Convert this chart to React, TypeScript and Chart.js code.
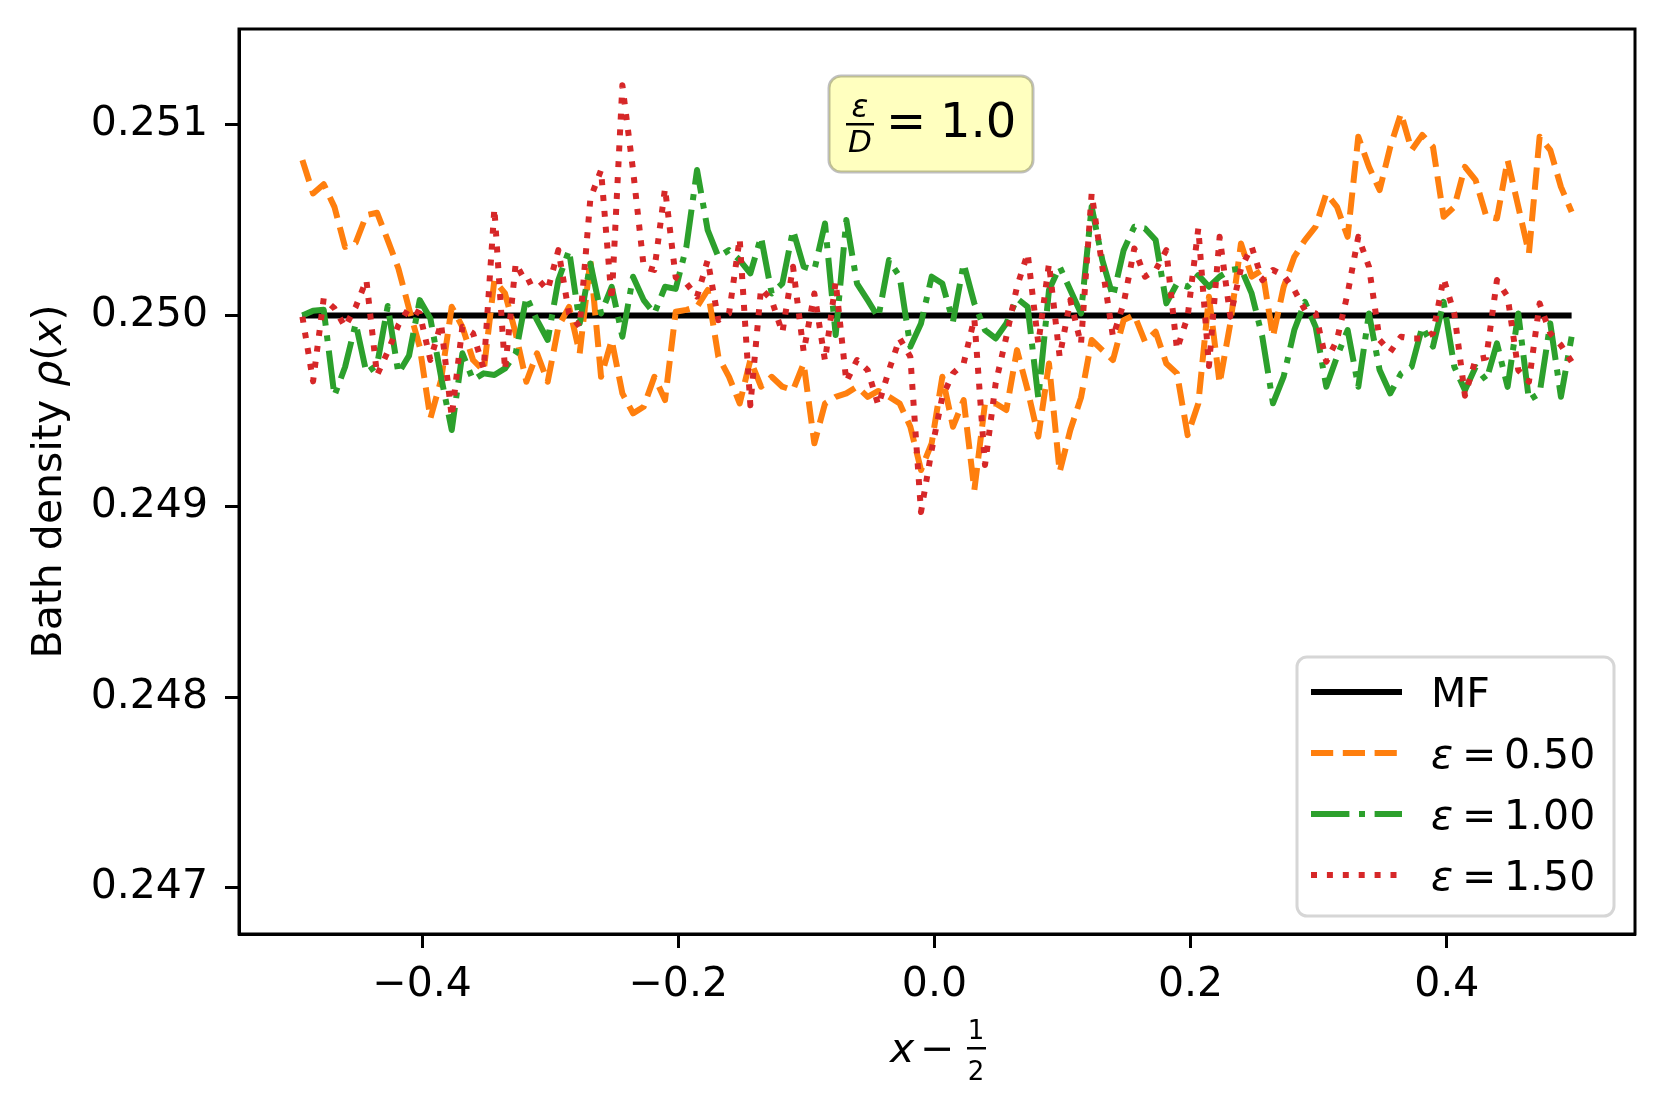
import { useEffect, useRef } from "react"
import { Chart, registerables } from "chart.js"

Chart.register(...registerables)

// sampling grid of the bath density profile (bin centres, x - 1/2)
const N_BINS = 120
const X_START = -0.4935
const X_END = 0.4975

// mean-field density
const MF_DENSITY = 0.25

const epsilonLabels = ["0.50", "1.00", "1.50"]

// epsilon = 0.50
const rhoEps050 = [
  0.250815, 0.25064, 0.250689, 0.25057, 0.25036, 0.250382, 0.250527, 0.250539, 0.250396, 0.250247,
  0.250036, 0.249836, 0.249461, 0.249662, 0.250046, 0.249941, 0.249767, 0.24971, 0.250186, 0.250116,
  0.249906, 0.249653, 0.249802, 0.249653, 0.249941, 0.250046, 0.249802, 0.250291, 0.249679, 0.249871,
  0.249592, 0.249487, 0.249522, 0.249679, 0.249557, 0.25002, 0.25003, 0.250046, 0.250134, 0.249784,
  0.249679, 0.249539, 0.249767, 0.249627, 0.249679, 0.249627, 0.249609, 0.249749, 0.24933, 0.249539,
  0.249574, 0.249592, 0.249627, 0.249574, 0.249605, 0.249574, 0.249539, 0.249417, 0.24919, 0.24933,
  0.249679, 0.249417, 0.249557, 0.249085, 0.249539, 0.249539, 0.249505, 0.249819, 0.249609, 0.249365,
  0.249749, 0.24918, 0.2494, 0.24957, 0.249872, 0.249819, 0.249767, 0.249976, 0.250003, 0.249863,
  0.249915, 0.249749, 0.249697, 0.249373, 0.249539, 0.250099, 0.249644, 0.249959, 0.250378, 0.250204,
  0.250239, 0.249889, 0.25015, 0.250308, 0.250396, 0.250466, 0.25064, 0.25057, 0.250413, 0.250938,
  0.25078, 0.250658, 0.250885, 0.25106, 0.250868, 0.250947, 0.250885, 0.250518, 0.25057, 0.25078,
  0.25071, 0.25052, 0.250509, 0.250815, 0.250571, 0.250326, 0.250938, 0.250868, 0.250675, 0.250544,
]

// epsilon = 1.00
const rhoEps100 = [
  0.25, 0.250025, 0.25003, 0.24958, 0.24973, 0.249959, 0.2497, 0.24974, 0.25005, 0.249697,
  0.24979, 0.250081, 0.249985, 0.249679, 0.2494, 0.249802, 0.249662, 0.249697, 0.249688, 0.249723,
  0.249802, 0.250099, 0.249976, 0.249872, 0.250186, 0.250343, 0.249959, 0.250273, 0.250011, 0.250151,
  0.249889, 0.250204, 0.250081, 0.250011, 0.250151, 0.25014, 0.25036, 0.250763, 0.250448, 0.250308,
  0.250343, 0.250291, 0.250221, 0.250413, 0.250116, 0.250168, 0.250448, 0.250256, 0.250239, 0.250483,
  0.249898, 0.250501, 0.250168, 0.250081, 0.24999, 0.250291, 0.250204, 0.249837, 0.249959, 0.250204,
  0.250168, 0.249968, 0.250273, 0.250064, 0.249924, 0.24988, 0.249959, 0.25009, 0.250046, 0.249566,
  0.250134, 0.250256, 0.250134, 0.250011, 0.250571, 0.250291, 0.250099, 0.250343, 0.250466, 0.250457,
  0.250396, 0.250064, 0.250168, 0.250151, 0.250212, 0.250151, 0.250204, 0.250239, 0.250247, 0.250116,
  0.249889, 0.24954, 0.24968, 0.249924, 0.250072, 0.249941, 0.249627, 0.249784, 0.249924, 0.249627,
  0.250011, 0.249714, 0.249592, 0.249696, 0.249732, 0.249941, 0.249837, 0.250072, 0.249732, 0.249609,
  0.24973, 0.24966, 0.249854, 0.249626, 0.250011, 0.249557, 0.249592, 0.249959, 0.249574, 0.249889,
]

// epsilon = 1.50
const rhoEps150 = [
  0.249994, 0.249655, 0.25009, 0.250038, 0.249941, 0.250046, 0.250186, 0.249688, 0.24981, 0.24995,
  0.25004, 0.250011, 0.249767, 0.249959, 0.249469, 0.249941, 0.249907, 0.24972, 0.250562, 0.249714,
  0.250274, 0.250169, 0.250195, 0.250134, 0.250343, 0.250011, 0.249941, 0.250614, 0.250763, 0.250081,
  0.251208, 0.250763, 0.250256, 0.250239, 0.250667, 0.2502, 0.250169, 0.250099, 0.250291, 0.249976,
  0.250011, 0.250404, 0.24953, 0.250142, 0.250081, 0.24991, 0.250256, 0.24981, 0.250116, 0.249763,
  0.250177, 0.249653, 0.249767, 0.249714, 0.24953, 0.249714, 0.24988, 0.249784, 0.24897, 0.249295,
  0.249574, 0.249697, 0.249749, 0.249985, 0.249216, 0.249644, 0.249889, 0.250151, 0.250326, 0.249854,
  0.250273, 0.249784, 0.250081, 0.24985, 0.25064, 0.250256, 0.249889, 0.250064, 0.250352, 0.250204,
  0.250239, 0.250343, 0.249822, 0.249994, 0.250457, 0.249735, 0.250413, 0.249994, 0.250247, 0.250361,
  0.250186, 0.250239, 0.25021, 0.250134, 0.250029, 0.250011, 0.249758, 0.249872, 0.250116, 0.250413,
  0.250256, 0.249872, 0.24981, 0.249889, 0.24988, 0.24988, 0.249907, 0.250195, 0.250011, 0.24958,
  0.24977, 0.24978, 0.250186, 0.250099, 0.249714, 0.249653, 0.250064, 0.249907, 0.249845, 0.249758,
]

const FONT = "DejaVu Sans"
const LW = 6

type Run = { text: string; font: string }

function runsWidth(ctx: CanvasRenderingContext2D, runs: Run[]) {
  let w = 0
  for (const r of runs) {
    ctx.font = r.font
    w += ctx.measureText(r.text).width
  }
  return w
}

function drawRuns(ctx: CanvasRenderingContext2D, runs: Run[], x: number, y: number) {
  let cx = x
  for (const r of runs) {
    ctx.font = r.font
    ctx.fillText(r.text, cx, y)
    cx += ctx.measureText(r.text).width
  }
}

function roundRect(ctx: CanvasRenderingContext2D, x: number, y: number, w: number, h: number, r: number) {
  ctx.beginPath()
  ctx.moveTo(x + r, y)
  ctx.arcTo(x + w, y, x + w, y + h, r)
  ctx.arcTo(x + w, y + h, x, y + h, r)
  ctx.arcTo(x, y + h, x, y, r)
  ctx.arcTo(x, y, x + w, y, r)
  ctx.closePath()
}

const decorations = {
  id: "decorations",
  afterDraw(chart: any) {
    const ctx: CanvasRenderingContext2D = chart.ctx
    const { left, right, top, bottom } = chart.chartArea
    const normal = `41px '${FONT}'`
    const italic = `italic 41px '${FONT}'`

    ctx.save()
    // axes frame
    ctx.strokeStyle = "#000"
    ctx.lineWidth = 3
    ctx.strokeRect(left, top, right - left, bottom - top)

    ctx.fillStyle = "#000"
    ctx.textAlign = "left"
    ctx.textBaseline = "alphabetic"

    // y axis title
    const yRuns: Run[] = [
      { text: "Bath density ", font: normal },
      { text: "ρ", font: italic },
      { text: "(", font: normal },
      { text: "x", font: italic },
      { text: ")", font: normal },
    ]
    ctx.save()
    ctx.translate(61, (top + bottom) / 2)
    ctx.rotate(-Math.PI / 2)
    drawRuns(ctx, yRuns, -runsWidth(ctx, yRuns) / 2, 0)
    ctx.restore()

    // x axis title: x - 1/2
    const cx = (left + right) / 2
    ctx.font = italic
    ctx.fillText("x", cx - 47, 1062)
    ctx.font = normal
    ctx.fillText("\u2212", cx - 17, 1062)
    ctx.font = `26px '${FONT}'`
    ctx.textAlign = "center"
    ctx.fillText("1", cx + 39, 1039)
    ctx.fillText("2", cx + 39, 1080)
    ctx.fillRect(cx + 30, 1047, 19, 2.5)
    ctx.textAlign = "left"

    // annotation box
    roundRect(ctx, 829, 76, 204, 96, 12)
    ctx.fillStyle = "rgba(255,255,0,0.25)"
    ctx.fill()
    ctx.strokeStyle = "rgba(0,0,0,0.25)"
    ctx.lineWidth = 3
    ctx.stroke()
    ctx.fillStyle = "#000"
    ctx.font = `italic 31px '${FONT}'`
    ctx.textAlign = "center"
    ctx.fillText("ε", 860, 117)
    ctx.fillText("D", 860, 152)
    ctx.fillRect(846, 123, 28, 2.5)
    ctx.textAlign = "left"
    ctx.font = `48px '${FONT}'`
    ctx.fillText("=", 886, 137)
    ctx.fillText("1.0", 940, 137)

    // legend
    const lx = right - 338
    const ly = bottom - 277
    roundRect(ctx, lx, ly, 317, 259, 10)
    ctx.fillStyle = "rgba(255,255,255,0.8)"
    ctx.fill()
    ctx.strokeStyle = "#d6d6d6"
    ctx.lineWidth = 3
    ctx.stroke()

    const datasets = chart.data.datasets
    datasets.forEach((ds: any, i: number) => {
      const y = ly + 35 + i * 61
      ctx.beginPath()
      ctx.setLineDash(ds.borderDash || [])
      ctx.lineDashOffset = 0
      ctx.lineCap = "butt"
      ctx.strokeStyle = ds.borderColor
      ctx.lineWidth = LW
      ctx.moveTo(lx + 14, y)
      ctx.lineTo(lx + 105, y)
      ctx.stroke()
      ctx.setLineDash([])
      ctx.fillStyle = "#000"
      if (i === 0) {
        ctx.font = normal
        ctx.fillText(ds.label, lx + 134, y + 15)
      } else {
        ctx.font = italic
        ctx.fillText("ε", lx + 134, y + 15)
        ctx.font = normal
        ctx.fillText("=", lx + 165, y + 15)
        ctx.fillText(epsilonLabels[i - 1], lx + 207, y + 15)
      }
    })
    ctx.restore()
  },
}

export default function App() {
  const chartRef = useRef<HTMLCanvasElement>(null)
  const chartInstance = useRef<Chart | null>(null)

  useEffect(() => {
    document.body.style.margin = "0"
    if (!chartRef.current) return

    if (chartInstance.current) {
      chartInstance.current.destroy()
    }

    const xs = Array.from({ length: N_BINS }, (_, i) => X_START + ((X_END - X_START) * i) / (N_BINS - 1))
    const series = (values: number[]) => xs.map((x, i) => ({ x, y: values[i] }))

    const common = {
      pointRadius: 0,
      borderWidth: LW,
      fill: false,
      tension: 0,
      borderCapStyle: "butt" as const,
      borderJoinStyle: "round" as const,
    }

    chartInstance.current = new Chart(chartRef.current, {
      type: "line",
      data: {
        datasets: [
          { ...common, label: "MF", data: xs.map((x) => ({ x, y: MF_DENSITY })), borderColor: "#000000", order: 4 },
          {
            ...common,
            label: `ε = ${epsilonLabels[0]}`,
            data: series(rhoEps050),
            borderColor: "#ff7f0e",
            borderDash: [22.2, 9.6],
            order: 3,
          },
          {
            ...common,
            label: `ε = ${epsilonLabels[1]}`,
            data: series(rhoEps100),
            borderColor: "#2ca02c",
            borderDash: [38.4, 9.6, 6, 9.6],
            order: 2,
          },
          {
            ...common,
            label: `ε = ${epsilonLabels[2]}`,
            data: series(rhoEps150),
            borderColor: "#d62728",
            borderDash: [6, 9.9],
            order: 1,
          },
        ],
      },
      options: {
        animation: false,
        responsive: false,
        events: [],
        layout: { padding: { left: 0, right: 29, top: 29, bottom: 0 } },
        plugins: {
          legend: { display: false },
          tooltip: { enabled: false },
        },
        scales: {
          x: {
            type: "linear",
            min: -0.543,
            max: 0.547,
            afterFit: (scale: any) => {
              scale.height = 177
              scale.paddingLeft = 0
              scale.paddingRight = 0
            },
            border: { color: "#000", width: 3 },
            grid: { drawOnChartArea: false, tickLength: 14, tickColor: "#000", tickWidth: 3 },
            ticks: {
              stepSize: 0.2,
              includeBounds: false,
              padding: 13,
              color: "#000",
              font: { family: FONT, size: 41 },
              callback: (v: any) => {
                const n = Number(v)
                if (Math.abs(n) < 1e-9) return "0.0"
                return (n < 0 ? "\u2212" : "") + Math.abs(n).toFixed(1)
              },
            },
          },
          y: {
            type: "linear",
            min: 0.2467575,
            max: 0.2515025,
            afterFit: (scale: any) => {
              scale.width = 239
              scale.paddingTop = 0
              scale.paddingBottom = 0
            },
            border: { color: "#000", width: 3 },
            grid: { drawOnChartArea: false, tickLength: 14, tickColor: "#000", tickWidth: 3 },
            ticks: {
              stepSize: 0.001,
              includeBounds: false,
              padding: 17,
              color: "#000",
              font: { family: FONT, size: 41 },
              callback: (v: any) => Number(v).toFixed(3),
            },
          },
        },
      },
      plugins: [decorations],
    })

    return () => {
      if (chartInstance.current) {
        chartInstance.current.destroy()
        chartInstance.current = null
      }
    }
  }, [])

  return (
    <div style={{ width: 1664, height: 1111, background: "#fff" }}>
      <canvas ref={chartRef} width={1664} height={1111} />
    </div>
  )
}
